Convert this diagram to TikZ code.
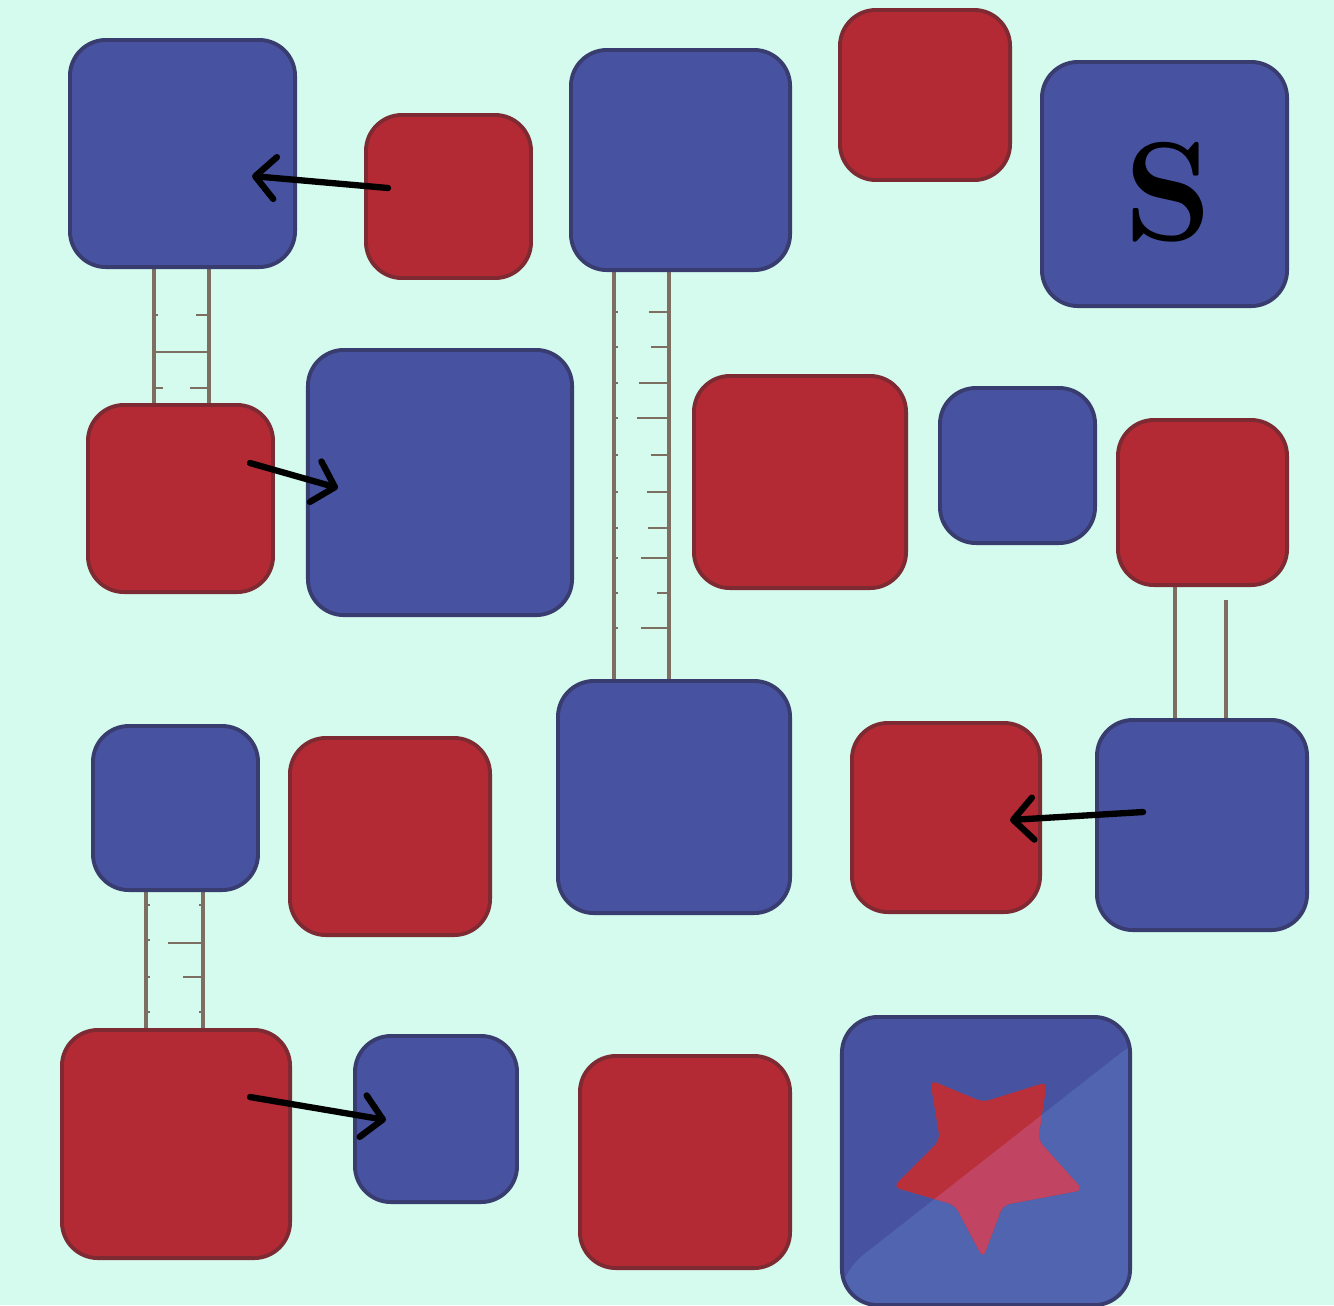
\documentclass[tikz,border=0pt]{standalone}
\usetikzlibrary{arrows.meta}
\definecolor{bg}{HTML}{D4FBEE}
\definecolor{tblue}{HTML}{4753A0}
\definecolor{tblueedge}{HTML}{383C6E}
\definecolor{tred}{HTML}{B42A34}
\definecolor{trededge}{HTML}{7E2A32}
\definecolor{railc}{HTML}{7D6E62}
\definecolor{gloss}{HTML}{5064B0}
\definecolor{starred}{HTML}{B9303A}
\definecolor{starpink}{HTML}{C14462}
\begin{document}
\begin{tikzpicture}[x=0.01cm,y=-0.01cm,
  tile/.style={rectangle, rounded corners=0.36cm, inner sep=0pt, line width=1.1pt},
  bt/.style={tile, fill=tblue, draw=tblueedge},
  rt/.style={tile, fill=tred, draw=trededge},
  railline/.style={draw=railc, line width=0.9pt},
  rungline/.style={draw=railc, line width=0.6pt},
  link/.style={line width=1.8pt, line cap=round, -{Straight Barb[length=2mm,width=4.2mm,round]}},
  startile/.style={path picture={
    \begin{scope}[shift={(path picture bounding box.center)}]
      \fill[gloss] (164,-131) -- (-151,116) -- (-151,170) -- (164,170) -- cycle;
      \fill[starred, rounded corners=2pt] (-56,-81) -- (-3,-59) -- (61,-79) -- (52,-21) -- (97,29)
        -- (17,44) -- (-3,97) -- (-31,44) -- (-93,26) -- (-46,-21) -- cycle;
      \begin{scope}
        \clip (164,-131) -- (-151,116) -- (-151,170) -- (164,170) -- cycle;
        \fill[starpink, rounded corners=2pt] (-56,-81) -- (-3,-59) -- (61,-79) -- (52,-21) -- (97,29)
          -- (17,44) -- (-3,97) -- (-31,44) -- (-93,26) -- (-46,-21) -- cycle;
      \end{scope}
    \end{scope}}}]
\useasboundingbox (0,0) rectangle (1334,1305);
\fill[bg] (0,0) rectangle (1334,1305);

% ladders (drawn below the tiles)
\draw[railline] (154,262) -- (154,410) (209,262) -- (209,410);
\draw[rungline] (154,352) -- (209,352) (196,315) -- (209,315) (154,315) -- (158,315)
  (190,388) -- (209,388) (154,388) -- (163,388);

\draw[railline] (614,265) -- (614,685) (669,265) -- (669,685);
\foreach \y/\l in {312/20,347/18,383/30,418/32,455/18,492/22,528/21,558/28,593/12,628/28}
  \draw[rungline] (669-\l,\y) -- (669,\y) (614,\y) -- (618,\y);

\draw[railline] (1175,580) -- (1175,724) (1226,600) -- (1226,724);

\draw[railline] (146,885) -- (146,1034) (203,885) -- (203,1034);
\draw[rungline] (168,943) -- (203,943) (183,977) -- (203,977)
  (146,905) -- (150,905) (146,940) -- (150,940) (146,977) -- (150,977) (146,1012) -- (150,1012)
  (199,1012) -- (203,1012) (199,905) -- (203,905);

% tiles
\node[bt, minimum width=2.25cm, minimum height=2.27cm] (b1) at (182.5,153.5) {};
\node[rt, minimum width=1.65cm, minimum height=1.63cm] (r1) at (448.5,196.5) {};
\node[bt, minimum width=2.19cm, minimum height=2.20cm] (b2) at (680.5,160) {};
\node[rt, minimum width=1.70cm, minimum height=1.70cm] (r2) at (925,95) {};
\node[bt, minimum width=2.45cm, minimum height=2.44cm] (b3) at (1164.5,184) {};
\node[rt, minimum width=1.85cm, minimum height=1.87cm] (r3) at (180.5,498.5) {};
\node[bt, minimum width=2.64cm, minimum height=2.65cm] (b4) at (440,482.5) {};
\node[rt, minimum width=2.12cm, minimum height=2.12cm] (r4) at (800,482) {};
\node[bt, minimum width=1.55cm, minimum height=1.55cm] (b5) at (1017.5,465.5) {};
\node[rt, minimum width=1.69cm, minimum height=1.65cm] (r5) at (1202.5,502.5) {};
\node[bt, minimum width=1.65cm, minimum height=1.64cm] (b6) at (175.5,808) {};
\node[rt, minimum width=2.00cm, minimum height=1.97cm] (r6) at (390,836.5) {};
\node[bt, minimum width=2.32cm, minimum height=2.32cm] (b7) at (674,797) {};
\node[rt, minimum width=1.88cm, minimum height=1.89cm] (r7) at (946,817.5) {};
\node[bt, minimum width=2.10cm, minimum height=2.10cm] (b8) at (1202,825) {};
\node[rt, minimum width=2.28cm, minimum height=2.28cm] (r8) at (176,1144) {};
\node[bt, minimum width=1.62cm, minimum height=1.66cm] (b9) at (436,1119) {};
\node[rt, minimum width=2.10cm, minimum height=2.12cm] (r9) at (685,1162) {};
\node[bt, startile, minimum width=2.88cm, minimum height=2.88cm] (b10) at (986,1161) {};

% S label
\node[font=\fontsize{40}{40}\selectfont\bfseries, text=black] (s) at (1168,192) {S};

% arrows
\coordinate (a1s) at (388,188);  \coordinate (a1e) at (252,176);
\coordinate (a2s) at (250,463);  \coordinate (a2e) at (338,488);
\coordinate (a3s) at (1143,812); \coordinate (a3e) at (1010,820);
\coordinate (a4s) at (250,1097); \coordinate (a4e) at (386,1120);
\draw[link] (a1s) -- (a1e);
\draw[link] (a2s) -- (a2e);
\draw[link] (a3s) -- (a3e);
\draw[link] (a4s) -- (a4e);
\end{tikzpicture}
\end{document}
